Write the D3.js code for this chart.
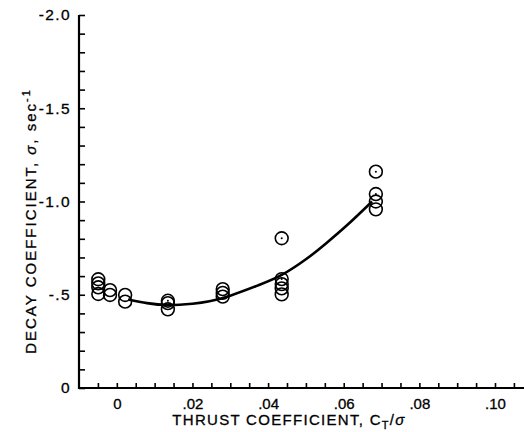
<!DOCTYPE html>
<html>
<head>
<meta charset="utf-8">
<script src="https://cdn.jsdelivr.net/npm/d3@7"></script>
<style>
  html, body { margin: 0; padding: 0; background: #fff; }
  svg { display: block; }
  text { font-family: "Liberation Sans", Arial, Helvetica, sans-serif; fill: #000; stroke: #000; stroke-width: 0.3px; }
</style>
</head>
<body>
<svg id="chart" width="524" height="432"></svg>
<script>
// ---- data ----
const pointX = [-0.0049, -0.0049, -0.0049, -0.0049,
                -0.0018, -0.0018,
                 0.0022,  0.0022,
                 0.0135,  0.0135,  0.0135,
                 0.028,   0.028,   0.028,
                 0.0436,  0.0436,  0.0436,  0.0436,  0.0436,
                 0.0685,  0.0685,  0.0685,  0.0685];
const pointY = [-0.583, -0.561, -0.540, -0.504,
                -0.525, -0.499,
                -0.499, -0.463,
                -0.468, -0.455, -0.422,
                -0.530, -0.510, -0.490,
                -0.803, -0.584, -0.557, -0.534, -0.502,
                -1.160, -1.040, -1.000, -0.958];
const pointDot = [false, false, false, false,
                  false, false,
                  false, false,
                  true, false, false,
                  false, false, false,
                  true, true, false, false, false,
                  true, true, false, false];

const curveX = [0.003, 0.008, 0.0135, 0.020, 0.0245, 0.030, 0.0376, 0.0436, 0.050, 0.0553, 0.061, 0.0675];
const curveY = [-0.475, -0.455, -0.445, -0.452, -0.465, -0.495, -0.552, -0.606, -0.690, -0.775, -0.875, -1.000];

const xTickValues = [0, 0.02, 0.04, 0.06, 0.08, 0.10];
const xTickLabels = ["0", ".02", ".04", ".06", ".08", ".10"];
const yTickValues = [-2.0, -1.5, -1.0, -0.5, 0];
const yTickLabels = ["-2.0", "-1.5", "-1.0", "-.5", "0"];

const xDomain = [-0.01, 0.10];
const xAxisEnd = 0.1077;
const yDomain = [0, -2.0];

// ---- layout ----
const svg = d3.select("#chart");
const x = d3.scaleLinear().domain(xDomain).range([79, 495]);
const y = d3.scaleLinear().domain(yDomain).range([388, 15]);

const xLabelMap = new Map(xTickValues.map((v, i) => [v.toFixed(3), xTickLabels[i]]));
const yLabelMap = new Map(yTickValues.map((v, i) => [v.toFixed(1), yTickLabels[i]]));

const xMinor = d3.range(-1, 22).map(i => +(i * 0.005).toFixed(3));
const yMinor = d3.range(-20, 1).map(i => +(i * 0.1).toFixed(1));

// x axis
const gx = svg.append("g").attr("transform", `translate(0,${y(0)})`)
  .call(d3.axisBottom(x)
    .tickValues(xMinor)
    .tickSize(-5)
    .tickPadding(10)
    .tickFormat(d => xLabelMap.get(d.toFixed(3)) || ""));
gx.select(".domain").remove();
gx.selectAll(".tick line").attr("stroke", "#000").attr("stroke-width", 1.6);
gx.selectAll(".tick text").attr("font-size", 15).attr("fill", "#000")
  .attr("font-family", '"Liberation Sans", Arial, Helvetica, sans-serif');

// y axis
const gy = svg.append("g").attr("transform", `translate(${x(xDomain[0])},0)`)
  .call(d3.axisLeft(y)
    .tickValues(yMinor)
    .tickSize(-6)
    .tickPadding(8)
    .tickFormat(d => yLabelMap.get(d.toFixed(1)) || ""));
gy.select(".domain").remove();
gy.selectAll(".tick line").attr("stroke", "#000").attr("stroke-width", 1.6);
gy.selectAll(".tick text").attr("font-size", 15.5).attr("fill", "#000")
  .attr("letter-spacing", "1.4px")
  .attr("font-family", '"Liberation Sans", Arial, Helvetica, sans-serif');

// axis lines
svg.append("line")
  .attr("x1", x(xDomain[0])).attr("x2", x(xAxisEnd))
  .attr("y1", y(0)).attr("y2", y(0))
  .attr("stroke", "#000").attr("stroke-width", 2);
svg.append("line")
  .attr("x1", x(xDomain[0])).attr("x2", x(xDomain[0]))
  .attr("y1", y(0) + 1).attr("y2", y(yDomain[1]))
  .attr("stroke", "#000").attr("stroke-width", 2.2);

// fitted curve
const line = d3.line().x(d => x(d[0])).y(d => y(d[1])).curve(d3.curveNatural);
svg.append("path")
  .datum(curveX.map((v, i) => [v, curveY[i]]))
  .attr("d", line)
  .attr("fill", "none")
  .attr("stroke", "#000")
  .attr("stroke-width", 2.6);

// data points
const pts = pointX.map((v, i) => ({ x: v, y: pointY[i], dot: pointDot[i] }));
svg.append("g").selectAll("circle").data(pts).join("circle")
  .attr("cx", d => x(d.x)).attr("cy", d => y(d.y)).attr("r", 6.4)
  .attr("fill", "none").attr("stroke", "#000").attr("stroke-width", 1.6);
svg.append("g").selectAll("circle").data(pts.filter(d => d.dot)).join("circle")
  .attr("cx", d => x(d.x)).attr("cy", d => y(d.y)).attr("r", 1)
  .attr("fill", "#000");

// x title
const xt = svg.append("text")
  .attr("x", 289).attr("y", 425)
  .attr("text-anchor", "middle")
  .attr("font-size", 15)
  .attr("letter-spacing", "1.3px");
xt.append("tspan").text("THRUST COEFFICIENT, C");
xt.append("tspan").attr("dy", 4).attr("font-size", 11).text("T");
xt.append("tspan").attr("dy", -4).text("/");
xt.append("tspan").attr("font-style", "italic").text("σ");

// y title
const yt = svg.append("text")
  .attr("transform", "translate(36,221) rotate(-90)")
  .attr("text-anchor", "middle")
  .attr("font-size", 15)
  .attr("letter-spacing", "2px");
yt.append("tspan").text("DECAY COEFFICIENT, ");
yt.append("tspan").attr("font-style", "italic").text("σ");
yt.append("tspan").text(", sec");
yt.append("tspan").attr("dy", -6).attr("font-size", 11).text("-1");
</script>
</body>
</html>
